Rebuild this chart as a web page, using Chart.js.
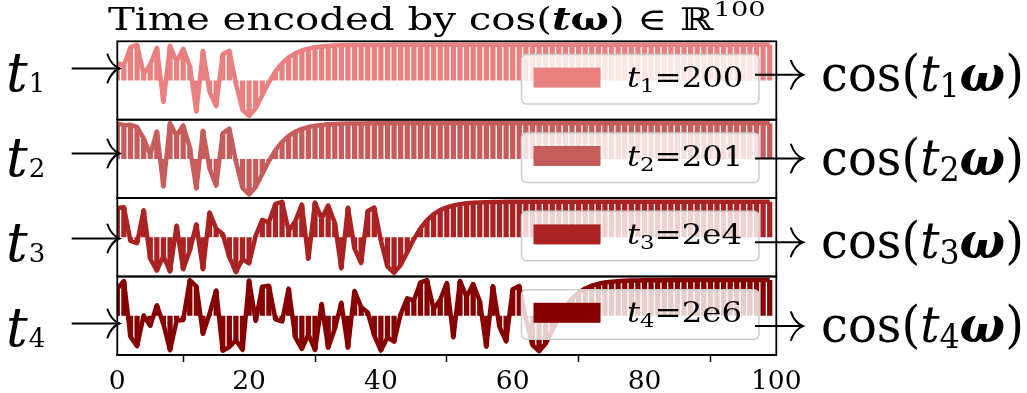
<!DOCTYPE html>
<html>
<head>
<meta charset="utf-8">
<script src="https://cdn.jsdelivr.net/npm/chart.js@4.4.1/dist/chart.umd.min.js"></script>
<style>
  html, body { margin: 0; padding: 0; background: #ffffff; }
  #fig { position: relative; width: 1027px; height: 393px; overflow: hidden; background: #ffffff; }
  #fig canvas { position: absolute; }
  #overlay { position: absolute; left: 0; top: 0; width: 1027px; height: 393px; pointer-events: none; }
  .djv { font-family: 'DejaVu Serif', serif; }
</style>
</head>
<body>
<div id="fig">
  <canvas id="c0"></canvas>
  <canvas id="c1"></canvas>
  <canvas id="c2"></canvas>
  <canvas id="c3"></canvas>
  <svg id="overlay" xmlns="http://www.w3.org/2000/svg" width="1027" height="393"></svg>
</div>
<script>
// ---------------- data ----------------
const dimIndex = Array.from({ length: 100 }, (_, i) => i);   // embedding dimension index
const xTicks = [0, 20, 40, 60, 80, 100];

// cos(t * omega) for t1 = 200
const t1Values = [
  0.488, 0.422, 0.936, 0.997, 0.181, 0.447, 0.916, -0.605, 0.975, 0.526,
  0.889, 0.408, -0.870, 0.830, -0.317, -0.720, 0.739, 0.833, -0.092, -0.822,
  -0.995, -0.780, -0.416, -0.051, 0.252, 0.483, 0.648, 0.763, 0.842, 0.895,
  0.931, 0.954, 0.970, 0.980, 0.987, 0.991, 0.994, 0.996, 0.998, 0.998,
  0.999, 0.999, 1, 1, 1, 1, 1, 1, 1, 1,
  1, 1, 1, 1, 1, 1, 1, 1, 1, 1,
  1, 1, 1, 1, 1, 1, 1, 1, 1, 1,
  1, 1, 1, 1, 1, 1, 1, 1, 1, 1,
  1, 1, 1, 1, 1, 1, 1, 1, 1, 1,
  1, 1, 1, 1, 1, 1, 1, 1, 1, 1
];
// t2 = 201
const t2Values = [
  0.998, 0.947, 0.956, 0.899, 0.577, 0.111, 0.767, -0.771, 0.999, 0.648,
  0.939, 0.316, -0.828, 0.791, -0.266, -0.749, 0.715, 0.848, -0.069, -0.811,
  -0.996, -0.788, -0.425, -0.060, 0.246, 0.479, 0.645, 0.761, 0.841, 0.894,
  0.930, 0.954, 0.970, 0.980, 0.987, 0.991, 0.994, 0.996, 0.998, 0.998,
  0.999, 0.999, 1, 1, 1, 1, 1, 1, 1, 1,
  1, 1, 1, 1, 1, 1, 1, 1, 1, 1,
  1, 1, 1, 1, 1, 1, 1, 1, 1, 1,
  1, 1, 1, 1, 1, 1, 1, 1, 1, 1,
  1, 1, 1, 1, 1, 1, 1, 1, 1, 1,
  1, 1, 1, 1, 1, 1, 1, 1, 1, 1
];
// t3 = 2e4
const t3Values = [
  0.813, 0.843, -0.103, -0.162, 0.760, -0.602, -0.934, -0.521, -0.960, 0.326,
  -0.897, -0.368, 0.363, -0.896, 0.696, 0.241, 0.092, -0.558, -0.978, -0.611,
  -0.730, 0.046, 0.488, 0.422, 0.936, 0.997, 0.181, 0.447, 0.916, -0.605,
  0.975, 0.526, 0.889, 0.408, -0.870, 0.830, -0.317, -0.720, 0.739, 0.833,
  -0.092, -0.822, -0.995, -0.780, -0.416, -0.051, 0.252, 0.483, 0.648, 0.763,
  0.842, 0.895, 0.931, 0.954, 0.970, 0.980, 0.987, 0.991, 0.994, 0.996,
  0.998, 0.998, 0.999, 0.999, 1, 1, 1, 1, 1, 1,
  1, 1, 1, 1, 1, 1, 1, 1, 1, 1,
  1, 1, 1, 1, 1, 1, 1, 1, 1, 1,
  1, 1, 1, 1, 1, 1, 1, 1, 1, 1
];
// t4 = 2e6
const t4Values = [
  0.755, 0.972, -0.588, -0.853, 0.007, -0.284, 0.293, -0.235, -0.970, -0.140,
  -0.122, 0.997, 0.823, -0.509, 0.055, 0.708, -0.983, -0.877, -0.690, -0.958,
  0.985, -0.144, 0.813, 0.843, -0.103, -0.162, 0.760, -0.602, -0.934, -0.521,
  -0.960, 0.326, -0.897, -0.368, 0.363, -0.896, 0.696, 0.241, 0.092, -0.558,
  -0.978, -0.611, -0.730, 0.046, 0.488, 0.422, 0.936, 0.997, 0.181, 0.447,
  0.916, -0.605, 0.975, 0.526, 0.889, 0.408, -0.870, 0.830, -0.317, -0.720,
  0.739, 0.833, -0.092, -0.822, -0.995, -0.780, -0.416, -0.051, 0.252, 0.483,
  0.648, 0.763, 0.842, 0.895, 0.931, 0.954, 0.970, 0.980, 0.987, 0.991,
  0.994, 0.996, 0.998, 0.998, 0.999, 0.999, 1, 1, 1, 1,
  1, 1, 1, 1, 1, 1, 1, 1, 1, 1
];

const panelSeries = [t1Values, t2Values, t3Values, t4Values];
const panelSubs = ['1', '2', '3', '4'];
const panelTimes = ['200', '201', '2e4', '2e6'];
const panelColors = ['#e98080', '#c75c5c', '#aa2222', '#870000'];

// ---------------- layout ----------------
const X_LEFT = 117.3, X_RIGHT = 776.3;
const PANEL_TOP0 = 41.3, PANEL_H = 78.4;
const AXIS_H = 38;
const CANVAS_LEFT = 77, CANVAS_W = 740;

const frame = {
  id: 'frame',
  afterDatasetsDraw(chart) {
    const { ctx, chartArea: a } = chart;
    ctx.save();
    ctx.strokeStyle = '#000';
    ctx.lineWidth = 1.8;
    ctx.strokeRect(a.left, a.top, a.right - a.left, a.bottom - a.top);
    ctx.restore();
  }
};

function makePanel(k) {
  const showX = k === 3;
  const pt = PANEL_TOP0 + k * PANEL_H;
  const top = Math.floor(pt) - 4;
  const padTop = pt - top;
  const h = Math.ceil(padTop + PANEL_H + (showX ? AXIS_H : 4));
  const padBottom = h - padTop - PANEL_H - (showX ? AXIS_H : 0);
  const cv = document.getElementById('c' + k);
  cv.width = CANVAS_W; cv.height = h;
  cv.style.left = CANVAS_LEFT + 'px'; cv.style.top = top + 'px';
  cv.style.width = CANVAS_W + 'px'; cv.style.height = h + 'px';
  const pts = dimIndex.map((d, i) => ({ x: d, y: panelSeries[k][i] }));
  const color = panelColors[k];
  new Chart(cv, {
    type: 'bar',
    data: {
      datasets: [
        { type: 'line', data: pts, borderColor: color, backgroundColor: color, borderWidth: 4.5,
          pointRadius: 0, tension: 0, borderJoinStyle: 'round', borderCapStyle: 'butt', order: 0, clip: 0 },
        { type: 'bar', data: pts, backgroundColor: color, borderWidth: 0, inflateAmount: 0,
          barPercentage: 0.8, categoryPercentage: 1.0, order: 1, clip: 0 }
      ]
    },
    options: {
      responsive: false, animation: false, devicePixelRatio: 1,
      layout: { padding: { left: X_LEFT - CANVAS_LEFT, right: CANVAS_LEFT + CANVAS_W - X_RIGHT, top: padTop, bottom: padBottom } },
      plugins: { legend: { display: false }, tooltip: { enabled: false } },
      scales: {
        x: {
          type: 'linear', min: 0, max: 100, display: showX, offset: false,
          afterBuildTicks: (s) => { s.ticks = xTicks.map(v => ({ value: v })); },
          afterFit: (s) => { if (showX) s.height = AXIS_H; },
          ticks: { color: '#000', padding: 4, maxRotation: 0, autoSkip: false,
                   font: { family: "'DejaVu Serif'", size: 26.5 } },
          grid: { display: true, drawOnChartArea: false, drawTicks: true, tickLength: 7, tickWidth: 1.5, tickColor: '#000' },
          border: { display: true, color: '#000', width: 1.8 }
        },
        y: { min: -1.1, max: 1.1, display: false }
      }
    },
    plugins: [frame]
  });
}
for (let k = 0; k < 4; k++) makePanel(k);

// ---------------- annotations (SVG text + arrows) ----------------
const svg = document.getElementById('overlay');
let html = '';
// title
html += '<g transform="translate(108,29.5) scale(1.3,1)"><text class="djv" x="0" y="0" font-size="31" fill="#000">Time encoded by cos(' +
        '<tspan font-weight="bold" font-style="italic">t</tspan><tspan font-weight="bold">ω</tspan>) ∈ ℝ' +
        '<tspan font-size="21" dy="-14">100</tspan></text></g>';

function arrow(x1, x2, y) {
  return '<path d="M' + x1 + ' ' + y + ' L' + (x2 - 1) + ' ' + y + '" stroke="#000" stroke-width="2" fill="none"/>' +
         '<path d="M' + (x2 - 12) + ' ' + (y - 14) + ' Q' + (x2 - 8) + ' ' + (y - 3) + ' ' + x2 + ' ' + y +
         ' Q' + (x2 - 8) + ' ' + (y + 3) + ' ' + (x2 - 12) + ' ' + (y + 14) + '" stroke="#000" stroke-width="2" fill="none" stroke-linecap="round"/>';
}

for (let k = 0; k < 4; k++) {
  const pt = PANEL_TOP0 + k * PANEL_H;
  // legend box
  const ly = pt + 13.2;
  html += '<rect x="521.5" y="' + ly + '" width="237.5" height="49.5" rx="5" ry="5" fill="rgba(255,255,255,0.8)" stroke="#cccccc" stroke-width="1.5"/>';
  html += '<rect x="533.5" y="' + (pt + 26.3) + '" width="67" height="20" fill="' + panelColors[k] + '"/>';
  html += '<g transform="translate(627,' + (pt + 45.8) + ') scale(1.2,1)"><text class="djv" x="0" y="0" font-size="27" fill="#000">' +
          '<tspan font-style="italic">t</tspan><tspan font-size="19" dy="5">' + panelSubs[k] + '</tspan>' +
          '<tspan dy="-5">=' + panelTimes[k] + '</tspan></text></g>';
  // left label + arrow
  const ay = 68.5 + k * 85;
  html += '<text class="djv" x="6" y="' + (ay + 22) + '" font-size="54" fill="#000">' +
          '<tspan font-style="italic">t</tspan><tspan font-size="26" dx="1" dy="1">' + panelSubs[k] + '</tspan></text>';
  html += arrow(71.7, 119.5, ay);
  // right arrow + label
  const ry = 74.7 + k * 83.8;
  html += arrow(755, 803, ry);
  html += '<g transform="translate(821,' + (ry + 16) + ') scale(0.96,1)"><text class="djv" x="0" y="0" font-size="50" fill="#000">cos(' +
          '<tspan font-style="italic">t</tspan><tspan font-size="33" dy="6">' + panelSubs[k] + '</tspan>' +
          '<tspan dy="-6" font-weight="bold" font-style="italic">ω</tspan>)</text></g>';
}
svg.innerHTML = html;
</script>
</body>
</html>
